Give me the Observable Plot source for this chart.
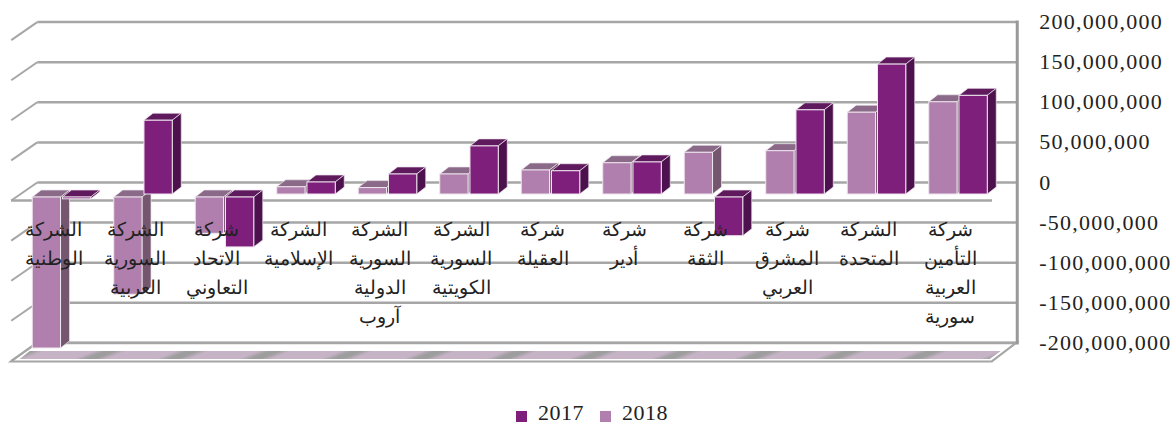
<!DOCTYPE html>
<html lang="ar">
<head>
<meta charset="utf-8">
<script src="https://cdn.jsdelivr.net/npm/d3@7"></script>
<script src="https://cdn.jsdelivr.net/npm/@observablehq/plot@0.6"></script>
<style>
html,body{margin:0;padding:0;background:#fff;width:1172px;height:423px;overflow:hidden}
#chart svg{display:block}
#legend{position:absolute;left:0;top:403px;width:1172px;height:20px}
#legend div{min-height:20px !important;line-height:20px;margin-bottom:0 !important}
#legend span{margin-right:16px !important;overflow:visible !important}
#legend svg{position:relative;top:3px}
#chart [aria-label="y-axis tick label"]{letter-spacing:1.25px}
</style>
</head>
<body>
<div id="chart"></div>
<div id="legend"></div>
<script>
const companies = [
  "الشركة\nالوطنية",
  "الشركة\nالسورية\nالعربية",
  "شركة\nالاتحاد\nالتعاوني",
  "الشركة\nالإسلامية",
  "الشركة\nالسورية\nالدولية\nآروب",
  "الشركة\nالسورية\nالكويتية",
  "شركة\nالعقيلة",
  "شركة\nأدير",
  "شركة\nالثقة",
  "شركة\nالمشرق\nالعربي",
  "الشركة\nالمتحدة",
  "شركة\nالتأمين\nالعربية\nسورية"
];
const values2017 = [-6e6, 92e6, -66e6, 15e6, 25e6, 60e6, 29e6, 40e6, -52e6, 105e6, 162e6, 123e6];
const values2018 = [-192e6, -125e6, -49e6, 9e6, 8e6, 25e6, 30e6, 39e6, 52e6, 54e6, 102e6, 115e6];
const yTicks = [200e6, 150e6, 100e6, 50e6, 0, -50e6, -100e6, -150e6, -200e6];
const years = ["2017", "2018"];
const barColors = ["#7f1f7c", "#b07fae"];
const topColors = {"2017": "#5f1a5e", "2018": "#8b6a89"};
const sideColors = {"2017": "#4d124e", "2018": "#75566f"};

// each bar sits either side of its company's position on the x scale
const slot = 0.347, gap = 0.012;
const rows2018 = companies.map((company, i) => ({year: "2018", value: values2018[i], x1: i - gap - slot, x2: i - gap}));
const rows2017 = companies.map((company, i) => ({year: "2017", value: values2017[i], x1: i + gap, x2: i + gap + slot}));

const grey = "#a6a6a6";
const svgNS = "http://www.w3.org/2000/svg";
const el = (name, attrs) => {
  const n = document.createElementNS(svgNS, name);
  for (const k in attrs) n.setAttribute(k, attrs[k]);
  return n;
};

// extruded faces around each bar drawn by the library
const depthX = 9, depthY = 7, belowZero = 3;
function extrude(index, scales, values, dimensions, context, next) {
  const g = next(index, scales, values, dimensions, context);
  const zero = scales.y(0);
  for (const r of Array.from(g.querySelectorAll("rect"))) {
    const x = +r.getAttribute("x");
    let y = +r.getAttribute("y"), h = +r.getAttribute("height");
    const w = +r.getAttribute("width");
    // bars that go below zero start a little under the plane
    if (y >= zero - 0.5 && h > belowZero) {
      y += belowZero; h -= belowZero;
      r.setAttribute("y", y);
      r.setAttribute("height", h);
    }
    const year = r.getAttribute("fill") === barColors[0] ? "2017" : "2018";
    const stroke = "#eee6ee";
    r.setAttribute("stroke", stroke);
    r.setAttribute("stroke-width", 1);
    const top = el("polygon", {
      points: `${x},${y} ${x + depthX},${y - depthY} ${x + w + depthX},${y - depthY} ${x + w},${y}`,
      fill: topColors[year], stroke, "stroke-width": 0.7
    });
    const side = el("polygon", {
      points: `${x + w},${y} ${x + w + depthX},${y - depthY} ${x + w + depthX},${y + h - depthY} ${x + w},${y + h}`,
      fill: sideColors[year], stroke, "stroke-width": 0.7
    });
    r.parentNode.insertBefore(top, r);
    r.parentNode.insertBefore(side, r);
  }
  return g;
}

// side-wall diagonals run forward from each back-wall gridline
const wallX = 26, wallY = 18;
function withDiagonals(index, scales, values, dimensions, context, next) {
  const g = next(index, scales, values, dimensions, context);
  for (const l of Array.from(g.querySelectorAll("line"))) {
    const x = +l.getAttribute("x1"), y = +l.getAttribute("y1");
    l.parentNode.appendChild(el("line", {x1: x, y1: y, x2: x - wallX, y2: y + wallY, stroke: grey, "stroke-width": 2}));
  }
  return g;
}

// floor plane under the chart
function floor(index, scales, values, dimensions) {
  const g = el("g", {});
  const y = scales.y(yTicks[yTicks.length - 1]);
  const left = dimensions.marginLeft, right = dimensions.width - dimensions.marginRight;
  const defs = el("defs", {});
  const grad = el("linearGradient", {
    id: "floorStripes", gradientUnits: "userSpaceOnUse", x1: 59, x2: 141.3, y1: 0, y2: 0,
    spreadMethod: "repeat", gradientTransform: "translate(878.6 0) skewX(-68)"
  });
  [[0, "#c6b3c6"], [0.3, "#c6b3c6"], [0.44, "#9e9e9e"], [0.56, "#9e9e9e"], [0.7, "#c6b3c6"], [1, "#c6b3c6"]].forEach(([o, c]) =>
    grad.appendChild(el("stop", {offset: o, "stop-color": c})));
  defs.appendChild(grad);
  g.appendChild(defs);
  g.appendChild(el("polygon", {
    points: `${left - 9.75},${y + 7} ${left + 16.25},${y - 12} ${right + 18},${y - 12} ${right - 7},${y + 7}`,
    fill: "#fff", stroke: grey, "stroke-width": 2
  }));
  g.appendChild(el("polygon", {
    points: `${left - 1},${y + 4.5} ${left + 9},${y - 3.5} ${right + 2},${y - 3.5} ${right - 9},${y + 4.5}`,
    fill: "url(#floorStripes)"
  }));
  return g;
}

const serif = "'Liberation Serif','Times New Roman',serif";

const plot = Plot.plot({
  width: 1172,
  height: 401,
  marginTop: 33.6,
  marginBottom: 46.6,
  marginLeft: 20.75,
  marginRight: 173.25,
  style: {background: "#fff", overflow: "visible"},
  x: {domain: [-0.5, companies.length - 0.5], axis: null},
  y: {domain: [-200e6, 200e6]},
  color: {domain: years, range: barColors},
  marks: [
    Plot.ruleY([yTicks[yTicks.length - 1]], {render: floor}),
    Plot.ruleY(yTicks, {dx: 16.5, dy: -12, insetRight: -1, stroke: grey, strokeWidth: 2.5, render: withDiagonals}),
    Plot.frame({anchor: "right", dx: 18, dy: -12, stroke: "#999", strokeWidth: 3}),
    Plot.ruleY([0], {dx: -9.75, dy: 6, insetRight: -3, stroke: grey, strokeWidth: 2.5}),
    Plot.rectY(rows2018, {x1: "x1", x2: "x2", y: "value", fill: "year", render: extrude}),
    Plot.rectY(rows2017, {x1: "x1", x2: "x2", y: "value", fill: "year", render: extrude}),
    Plot.text(companies, {
      x: (d, i) => i, y: () => 0, text: d => d, dx: -8.5, dy: 21,
      lineAnchor: "top", lineHeight: 1.53, textAnchor: "middle",
      fontSize: 19, fontFamily: serif, fill: "#222"
    }),
    Plot.axisY(yTicks, {
      anchor: "right", dy: -12, tickSize: 0, tickPadding: 40, textAnchor: "start", label: null,
      tickFormat: d => d.toLocaleString("en-US"),
      fontSize: 22, fontFamily: serif, fill: "#222"
    })
  ]
});
document.getElementById("chart").appendChild(plot);

const legend = plot.legend("color", {
  swatchSize: 11, marginLeft: 516,
  style: {fontFamily: serif, fontSize: "22px", letterSpacing: "0.5px", color: "#222"}
});
document.getElementById("legend").appendChild(legend);
</script>
</body>
</html>
